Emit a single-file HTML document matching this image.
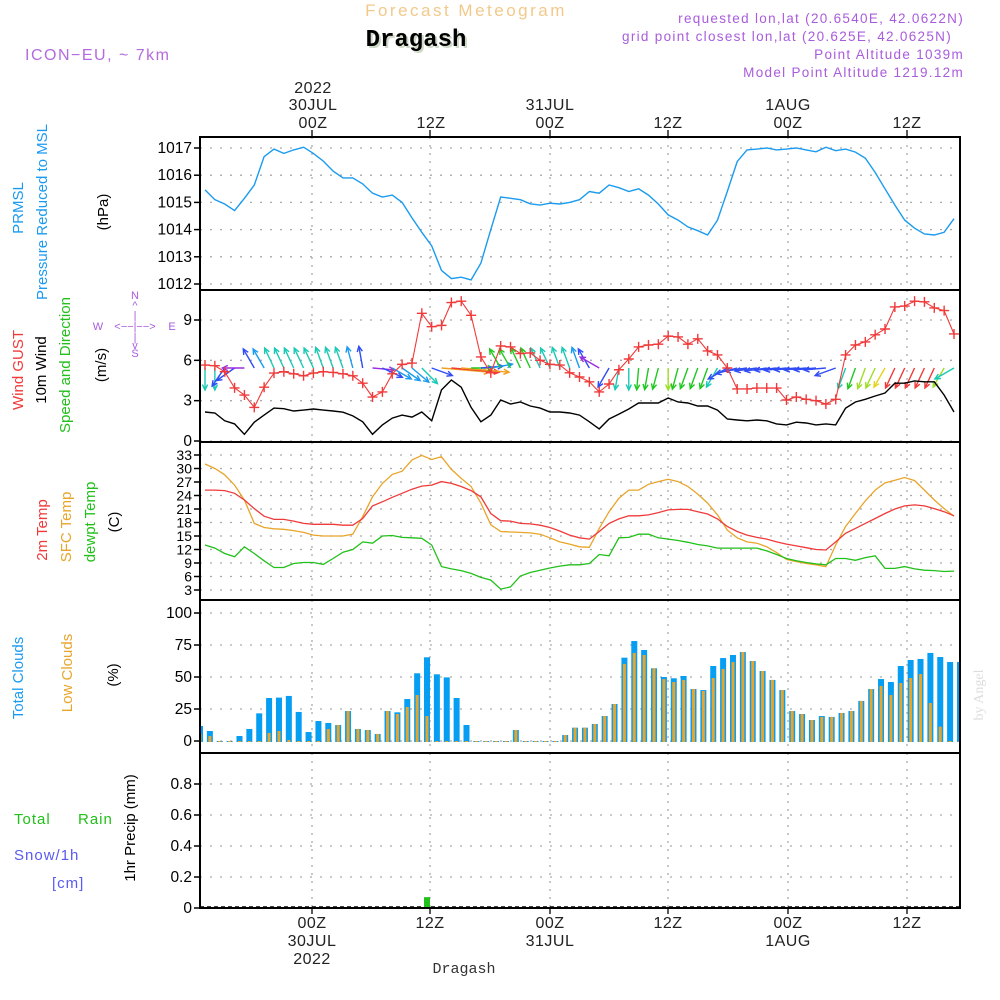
<!DOCTYPE html>
<html><head><meta charset="utf-8"><style>
html,body{margin:0;padding:0;background:#fff}
svg{display:block;font-family:"Liberation Sans",sans-serif}
</style></head><body>
<svg id="chart" width="1000" height="1000" viewBox="0 0 1000 1000">
<text x="466" y="16" font-size="17" fill="#f2c98a" text-anchor="middle" letter-spacing="2.5">Forecast Meteogram</text>
<text x="418" y="48" font-size="24" font-weight="bold" font-family="Liberation Mono,monospace" fill="#cfd9c8" text-anchor="middle">Dragash</text>
<text x="416" y="46" font-size="24" font-weight="bold" font-family="Liberation Mono,monospace" fill="#000" text-anchor="middle">Dragash</text>
<text x="25" y="60" font-size="16" fill="#b36be0" letter-spacing="1.5">ICON−EU, ~ 7km</text>
<g font-size="13.5" fill="#a95cdc" text-anchor="end" letter-spacing="1.3">
<text x="964" y="23">requested lon,lat (20.6540E, 42.0622N)</text>
<text x="952" y="41">grid point closest lon,lat (20.625E, 42.0625N)</text>
<text x="964" y="59">Point Altitude 1039m</text>
<text x="964" y="77">Model Point Altitude 1219.12m</text>
</g>
<g font-size="16" fill="#222" text-anchor="middle" letter-spacing="0.5">
<text x="313" y="93">2022</text><text x="313" y="110">30JUL</text><text x="313" y="128">00Z</text>
<text x="431" y="128">12Z</text>
<text x="550" y="110">31JUL</text><text x="550" y="128">00Z</text>
<text x="668" y="128">12Z</text>
<text x="788" y="110">1AUG</text><text x="788" y="128">00Z</text>
<text x="907" y="128">12Z</text>
</g>
<g font-size="16" fill="#222" text-anchor="middle" letter-spacing="0.5">
<text x="312" y="928">00Z</text><text x="312" y="946">30JUL</text><text x="312" y="964">2022</text>
<text x="430" y="928">12Z</text>
<text x="550" y="928">00Z</text><text x="550" y="946">31JUL</text>
<text x="668" y="928">12Z</text>
<text x="788" y="928">00Z</text><text x="788" y="946">1AUG</text>
<text x="907" y="928">12Z</text>
</g>
<text x="464" y="973" font-size="15" font-family="Liberation Mono,monospace" fill="#333" text-anchor="middle">Dragash</text>
<text transform="translate(983,695) rotate(-90)" font-size="14" font-family="Liberation Serif,serif" fill="#ddd" text-anchor="middle">by Angel</text>
<g font-size="15" text-anchor="middle">
<text transform="translate(23,208) rotate(-90)" fill="#1a9bf0">PRMSL</text>
<text transform="translate(47,212) rotate(-90)" fill="#1a9bf0">Pressure Reduced to MSL</text>
<text transform="translate(108,212) rotate(-90)" fill="#000">(hPa)</text>
</g>
<g font-size="15" text-anchor="middle">
<text transform="translate(23,370) rotate(-90)" fill="#f03a3a">Wind GUST</text>
<text transform="translate(46,370) rotate(-90)" fill="#000">10m Wind</text>
<text transform="translate(70,365) rotate(-90)" fill="#22c01a">Speed and Direction</text>
<text transform="translate(106,365) rotate(-90)" fill="#000">(m/s)</text>
</g>
<g font-size="11" fill="#a95cdc" text-anchor="middle">
<text x="135" y="299">N</text><text x="135" y="309">^</text><text x="135" y="319">|</text>
<text x="98" y="330">W</text><text x="135" y="330">&lt;−−|−−&gt;</text><text x="172" y="330">E</text>
<text x="135" y="341">|</text><text x="135" y="349">v</text><text x="135" y="357">S</text>
</g>
<g font-size="15" text-anchor="middle">
<text transform="translate(47,530) rotate(-90)" fill="#f03a3a">2m Temp</text>
<text transform="translate(71,527) rotate(-90)" fill="#e8a52a">SFC Temp</text>
<text transform="translate(95,522) rotate(-90)" fill="#22c01a">dewpt Temp</text>
<text transform="translate(119,522) rotate(-90)" fill="#000">(C)</text>
</g>
<g font-size="15" text-anchor="middle">
<text transform="translate(23,678) rotate(-90)" fill="#1a9bf0">Total Clouds</text>
<text transform="translate(72,673) rotate(-90)" fill="#e8a52a">Low Clouds</text>
<text transform="translate(118,675) rotate(-90)" fill="#000">(%)</text>
</g>
<g font-size="15">
<text x="14" y="824" fill="#22c01a" letter-spacing="1">Total</text>
<text x="78" y="824" fill="#22c01a" letter-spacing="1">Rain</text>
<text x="14" y="860" fill="#5a5af0" letter-spacing="1">Snow/1h</text>
<text x="52" y="888" fill="#5a5af0" letter-spacing="1">[cm]</text>
<text transform="translate(135,828) rotate(-90)" fill="#000" text-anchor="middle">1hr Precip (mm)</text>
</g>
<g id="plots"></g>
</svg>
<script>
const timeTickX = [312, 430, 550, 668, 788, 907];
const pressure = [1015.46,1015.1,1014.94,1014.7,1015.15,1015.64,1016.68,1016.96,1016.8,1016.93,1017.03,1016.8,1016.52,1016.15,1015.9,1015.9,1015.68,1015.34,1015.2,1015.27,1015.0,1014.43,1013.9,1013.4,1012.5,1012.2,1012.25,1012.15,1012.77,1014.0,1015.2,1015.15,1015.1,1014.95,1014.9,1014.97,1014.94,1015.0,1015.1,1015.4,1015.34,1015.64,1015.54,1015.4,1015.5,1015.27,1014.94,1014.54,1014.35,1014.1,1013.96,1013.8,1014.35,1015.4,1016.5,1016.93,1016.96,1017.0,1016.93,1016.96,1017.0,1016.93,1016.86,1017.03,1016.9,1016.96,1016.85,1016.63,1016.1,1015.5,1014.9,1014.35,1014.05,1013.84,1013.8,1013.9,1014.4];
const wind10m = [2.16,2.08,1.5,1.27,0.5,1.4,1.93,2.45,2.4,2.23,2.3,2.38,2.3,2.23,2.14,1.87,1.43,0.5,1.2,1.7,1.93,1.78,2.16,1.5,3.8,4.54,4.0,2.5,1.43,1.93,3.05,2.75,2.9,2.6,2.45,2.16,2.16,2.08,1.93,1.43,0.9,1.64,2.0,2.38,2.83,2.83,2.83,3.2,2.9,2.83,2.6,2.6,2.3,1.64,1.56,1.5,1.56,1.5,1.27,1.2,1.4,1.34,1.2,1.27,1.2,2.45,2.9,3.1,3.35,3.57,4.3,4.3,4.47,4.4,4.4,3.42,2.16];
const gust = [5.65,5.6,5.15,3.95,3.42,2.5,4.0,5.05,5.15,5.0,4.85,5.05,5.15,5.1,5.0,4.85,4.3,3.27,3.65,5.0,5.7,5.8,9.5,8.5,8.6,10.3,10.4,9.35,6.25,5.07,7.07,7.0,6.5,6.55,6.0,5.7,5.65,5.07,4.76,4.4,3.65,4.24,5.3,6.1,7.0,7.14,7.2,7.8,7.74,7.2,7.6,6.7,6.4,5.43,3.87,3.87,3.94,3.94,3.94,3.05,3.27,3.1,3.0,2.75,3.1,6.4,7.14,7.37,7.9,8.33,9.97,10.04,10.4,10.35,9.9,9.7,7.96];
const windDir = [180,180,215,235,270,330,330,335,335,335,335,335,340,340,340,345,350,95,115,120,125,130,135,110,95,95,95,90,85,80,330,330,335,335,335,335,340,340,340,330,300,210,190,180,185,190,195,180,195,200,200,200,210,240,255,262,262,262,264,264,265,265,265,265,250,200,200,200,205,210,205,205,205,205,205,210,240];
const temp2m = [25.2,25.2,25.1,24.5,23.0,21.1,19.4,18.7,18.7,18.3,17.8,17.6,17.6,17.6,17.4,17.4,18.9,21.7,22.6,23.6,24.5,25.4,26.1,26.3,27.1,26.7,26.0,25.1,23.7,20.0,18.4,18.3,17.8,17.7,17.4,16.9,16.1,15.2,14.6,14.3,16.0,17.8,18.8,19.5,19.5,19.7,20.2,20.8,20.9,20.9,20.4,19.9,18.8,17.1,16.0,15.2,14.7,14.3,13.7,13.2,12.8,12.4,12.0,11.9,13.7,15.6,16.7,17.8,18.9,20.0,21.0,21.7,21.9,21.7,21.1,20.4,19.5];
const tempSfc = [31.0,30.0,28.6,26.3,23.0,17.8,16.9,16.6,16.5,16.2,15.8,15.2,15.0,15.0,15.0,15.4,19.3,23.7,26.7,28.7,29.4,31.9,32.9,32.0,32.6,29.8,27.8,26.0,22.3,17.5,16.0,15.9,15.8,15.7,15.4,14.6,13.7,13.2,12.6,12.5,16.7,20.4,23.4,25.2,25.2,26.5,27.1,27.6,27.1,26.0,24.3,22.3,19.7,16.3,14.6,13.7,13.4,12.6,11.3,9.8,9.3,8.9,8.6,8.2,13.0,17.1,20.0,22.8,25.2,26.8,27.4,28.0,27.3,25.2,23.0,21.1,19.4];
const dewpt = [13.0,12.3,11.1,10.4,12.6,11.1,9.5,8.0,8.0,8.9,9.1,9.1,8.7,10.0,11.4,12.0,13.7,13.4,15.0,15.1,14.7,14.6,14.5,13.0,8.2,7.7,7.3,6.7,5.8,5.2,3.2,3.7,6.1,6.9,7.4,7.9,8.3,8.6,8.6,8.9,10.9,10.6,14.6,14.7,15.4,15.4,14.6,14.3,14.0,13.6,13.1,12.8,12.3,12.3,12.3,12.3,12.3,11.7,10.9,10.0,9.5,9.1,8.8,8.6,10.0,10.0,9.6,10.2,10.6,7.8,7.8,8.2,7.7,7.4,7.3,7.1,7.2];
const totalCloud = [11.7,7.8,0,0,3.9,9.4,21.6,33.6,33.9,35.2,22.7,7.0,15.6,14.1,12.5,23.4,9.4,8.6,5.5,23.4,22.4,32.8,52.9,65.4,52.1,49.7,33.6,12.5,0,0,0,0,8.6,0,0,0,0,4.7,10.4,10.4,13.3,19.5,28.9,65.1,78.1,71.1,56.8,50.0,49.0,50.8,40.6,39.8,58.6,64.8,67.2,69.5,62.5,54.7,47.7,39.8,23.4,21.1,16.4,19.5,18.8,21.9,23.4,31.3,40.6,48.4,46.1,58.6,63.3,64.1,68.8,65.6,61.7,61.7];
const lowCloud = [5.5,3.9,0,0,0,0,0,6.3,7.8,0.8,0,0,0,9.4,12.5,23.4,9.4,8.6,5.5,23.4,21.1,26.6,35.9,19.5,0,0,0,0,0,0,0,0,8.6,0,0,0,0,4.7,10.4,10.4,13.3,19.5,28.9,60.2,68.8,67.2,56.8,48.4,46.1,47.7,40.6,39.1,49.2,56.3,61.7,69.5,62.5,54.7,47.7,39.8,23.4,21.1,16.4,18.8,18.8,21.9,23.4,31.3,40.6,43.0,35.9,45.3,49.2,52.3,29.7,11.2,0,0];
const precip = [0,0,0,0,0,0,0,0,0,0,0,0,0,0,0,0,0,0,0,0,0,0,0,0.07,0.005,0,0,0,0,0,0,0,0,0,0,0,0,0,0,0,0,0,0,0,0,0,0,0,0,0,0,0,0,0,0,0,0,0,0,0,0,0,0,0,0,0,0,0,0,0,0,0,0,0,0,0,0,0];
const pTicks = [1012,1013,1014,1015,1016,1017];
const wTicks = [0,3,6,9];
const tTicks = [3,6,9,12,15,18,21,24,27,30,33];
const cTicks = [0,25,50,75,100];
const rTicks = [0,0.2,0.4,0.6,0.8];

const X0 = 200, X1 = 960;
const xLine = i => 205 + i * (749 / (pressure.length - 1));
const xBar = j => 200 + j * 9.87;
const lin = (d0, d1, r0, r1) => v => r0 + (v - d0) * (r1 - r0) / (d1 - d0);
const panels = [
  {name:'pressure', top:137, bot:290, y: lin(1012,1017,284,148), ticks:pTicks, fmt:v=>v},
  {name:'wind', top:290, bot:442, y: lin(0,9,441,320), ticks:wTicks, fmt:v=>v},
  {name:'temperature', top:442, bot:600, y: lin(3,33,590,455), ticks:tTicks, fmt:v=>v},
  {name:'cloud', top:600, bot:753, y: lin(0,100,741,613), ticks:cTicks, fmt:v=>v},
  {name:'precip', top:753, bot:908, y: lin(0,0.8,908,784), ticks:rTicks, fmt:v=>v===0?'0':v.toFixed(1)}
];
const NS = 'http://www.w3.org/2000/svg';
const root = document.getElementById('plots');
function mk(tag, attrs, parent) {
  const e = document.createElementNS(NS, tag);
  for (const k in attrs) e.setAttribute(k, attrs[k]);
  (parent || root).appendChild(e);
  return e;
}
const defs = mk('defs', {});
const clip = mk('clipPath', {id:'plotclip'}, defs);
mk('rect', {x:X0, y:130, width:X1-X0, height:790}, clip);

panels.forEach(p => {
  const g = mk('g', {});
  
  
  p.g = g;
  p.ticks.forEach(t => {
    const y = p.y(t);
    const gl = mk('line', {x1:X0, x2:X1, y1:y, y2:y, stroke:'#aaa', 'stroke-dasharray':'2 8', 'stroke-width':1.3}, g);
    
    
    mk('line', {x1:X0-6, x2:X0, y1:y, y2:y, stroke:'#000', 'stroke-width':1.5}, g);
    const lbl = mk('text', {x:X0-8, y:y+5, 'font-size': p.name==='temperature'?14:15.5, 'text-anchor':'end', fill:'#000'}, g);
    lbl.textContent = p.fmt(t);
    
    
  });
  timeTickX.forEach(x => {
    mk('line', {x1:x, x2:x, y1:p.top, y2:p.bot, stroke:'#aaa', 'stroke-dasharray':'2 6', 'stroke-width':1.3}, g);
  });
});

function polyline(arr, p, color, w, name) {
  const pts = arr.map((v, i) => xLine(i).toFixed(1) + ',' + p.y(v).toFixed(1)).join(' ');
  const e = mk('polyline', {points:pts, fill:'none', stroke:color, 'stroke-width':w, 'clip-path':'url(#plotclip)'}, p.g);
  
  
  return e;
}
polyline(pressure, panels[0], '#1a9bf0', 1.4, 'pressure-line');
const wp = panels[1];
function speedColor(s) {
  if (s < 1) return '#9a2ee0';
  if (s < 1.7) return '#2f4cf5';
  if (s < 2.0) return '#1a9bf0';
  if (s < 2.5) return '#19c9b4';
  if (s < 3.1) return '#1fc81f';
  if (s < 3.5) return '#9fdc28';
  if (s < 3.8) return '#e8d21a';
  if (s < 4.2) return '#f0a020';
  return '#f03a3a';
}
windDir.forEach((d, i) => {
  const s = wind10m[i];
  const L = d > 60 && d < 120 && s > 3.5 ? 48 : 22;
  const a = d * Math.PI / 180;
  const x0 = xLine(i), y0 = 368;
  const x1 = x0 + L * Math.sin(a), y1 = y0 - L * Math.cos(a);
  const c = speedColor(s);
  const g = mk('g', {stroke:c, 'stroke-width':1.4, fill:'none', 'clip-path':'url(#plotclip)'}, wp.g);
  
  
  mk('line', {x1:x0, y1:y0, x2:x1, y2:y1}, g);
  const h = 6, sp = 0.45;
  mk('polyline', {points:`${x1 - h*Math.sin(a-sp)},${y1 + h*Math.cos(a-sp)} ${x1},${y1} ${x1 - h*Math.sin(a+sp)},${y1 + h*Math.cos(a+sp)}`}, g);
});
polyline(wind10m, wp, '#000', 1.4, 'wind-speed-line');
polyline(gust, wp, '#f03a3a', 1.1, 'wind-gust-line');
gust.forEach((v, i) => {
  const x = xLine(i), y = wp.y(v);
  const m = mk('path', {d:`M${x-5},${y}H${x+5}M${x},${y-5}V${y+5}`, stroke:'#f03a3a', 'stroke-width':1.4, 'clip-path':'url(#plotclip)'}, wp.g);
  
  
});
const tp = panels[2];
polyline(tempSfc, tp, '#e8a52a', 1.3, 'sfc-temp-line');
polyline(temp2m, tp, '#f03a3a', 1.3, 'temp-2m-line');
polyline(dewpt, tp, '#22c01a', 1.3, 'dewpoint-line');
const cp = panels[3];
totalCloud.forEach((v, j) => {
  const x = xBar(j), y = cp.y(v);
  const b = mk('rect', {x:x-3, y:y, width:6, height:Math.max(cp.y(0)-y, 0.01)+1, fill:'#069ef2', 'clip-path':'url(#plotclip)'}, cp.g);
  
  
});
lowCloud.forEach((v, j) => {
  const x = xBar(j), y = cp.y(v);
  const b = mk('rect', {x:x-1.5, y:y, width:3, height:Math.max(cp.y(0)-y, 0)+1, fill:'#e8a52a', 'clip-path':'url(#plotclip)'}, cp.g);
  
  
});
const rp = panels[4];
mk('line', {x1:X0, x2:X1, y1:907, y2:907, stroke:'#000', 'stroke-width':1.5, 'stroke-dasharray':'4 3'}, rp.g);
precip.forEach((v, j) => {
  if (v <= 0) return;
  const x = xBar(j), y = rp.y(v);
  const b = mk('rect', {x:x-3, y:y, width:6, height:rp.y(0)-y, fill:'#22c01a'}, rp.g);
  
  
});
panels.forEach(p => {
  const r = mk('rect', {x:X0, y:p.top, width:X1-X0, height:p.bot-p.top, fill:'none', stroke:'#000', 'stroke-width':2});
  
  
});
timeTickX.forEach(x => {
  mk('line', {x1:x, x2:x, y1:130, y2:137, stroke:'#000', 'stroke-width':1.3});
  mk('line', {x1:x, x2:x, y1:908, y2:914, stroke:'#000', 'stroke-width':1.3});
});
</script>
</body></html>
